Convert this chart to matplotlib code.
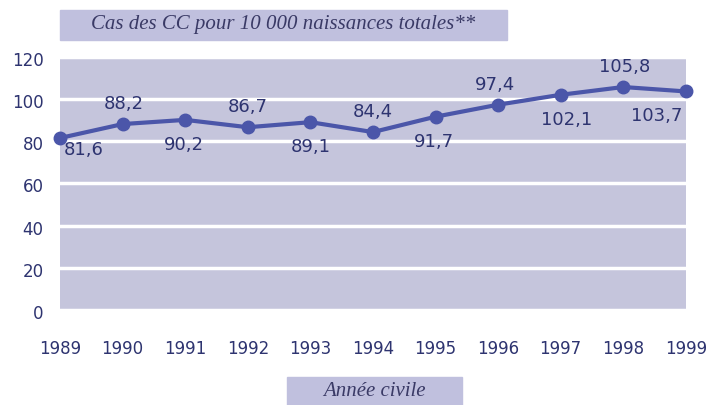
import matplotlib
matplotlib.use('Agg')
import matplotlib.pyplot as plt
from matplotlib.patches import Rectangle

# Données
years = [1989, 1990, 1991, 1992, 1993, 1994, 1995, 1996, 1997, 1998, 1999]
values = [81.6, 88.2, 90.2, 86.7, 89.1, 84.4, 91.7, 97.4, 102.1, 105.8, 103.7]
labels = ['81,6', '88,2', '90,2', '86,7', '89,1', '84,4', '91,7', '97,4', '102,1', '105,8', '103,7']
y_ticks = [0, 20, 40, 60, 80, 100, 120]

bg = '#c5c5dc'
line_col = '#4b56a9'
txt_col = '#2e3470'

fig = plt.figure(figsize=(7.07, 4.05), dpi=100)
ax = fig.add_axes([0.085, 0.235, 0.885, 0.624])
ax.set_facecolor(bg)
for s in ax.spines.values():
    s.set_visible(False)

# bandes blanches
ax.set_axisbelow(True)
ax.yaxis.grid(True, color='white', linewidth=2.5)

ax.plot(years, values, color=line_col, linewidth=3, marker='o', markersize=9, clip_on=False, zorder=3)

# étiquettes alternées dessus / dessous (décalages en points)
dxs = [17, 1, -1, 0, 0, 0, -1, -2, 4, 1, -21]
for i, (x, y, lab) in enumerate(zip(years, values, labels)):
    dy = -18 if i % 2 == 0 else 14.5
    if i == 0:
        dy = -9
    ax.annotate(lab, (x, y), xytext=(dxs[i], dy), textcoords='offset points',
                ha='center', va='center', fontsize=13, color=txt_col)

ax.set_xlim(1989, 1999)
ax.set_ylim(0, 120)
ax.set_xticks(years)
ax.set_yticks(y_ticks)
ax.tick_params(length=0, labelsize=12, labelcolor=txt_col)
ax.tick_params(axis='x', pad=22)
ax.tick_params(axis='y', pad=12)
for t in ax.get_yticklabels():
    t.set_va('top')
    t.set_y(t.get_position()[1])
ax.set_yticklabels([str(v) for v in y_ticks], va='center')
for t in ax.get_yticklabels():
    t.set_transform(t.get_transform() + matplotlib.transforms.ScaledTranslation(0, -4 / 100, fig.dpi_scale_trans))

# boîtes de titre
fig.patches.append(Rectangle((60 / 707, 1 - 40 / 405), 447 / 707, 30 / 405,
                             transform=fig.transFigure, color='#c0c0de', zorder=0))
fig.text(283 / 707, 1 - 25 / 405, 'Cas des CC pour 10 000 naissances totales**',
         ha='center', va='center', fontsize=15, style='italic',
         family='Liberation Serif', color='#3a3a66')
fig.patches.append(Rectangle((287 / 707, 0), 175 / 707, 28 / 405,
                             transform=fig.transFigure, color='#c0c0de', zorder=0))
fig.text(374 / 707, 14 / 405, 'Année civile', ha='center', va='center',
         fontsize=15, style='italic', family='Liberation Serif', color='#3a3a66')

fig.savefig('out.png', dpi=100)
